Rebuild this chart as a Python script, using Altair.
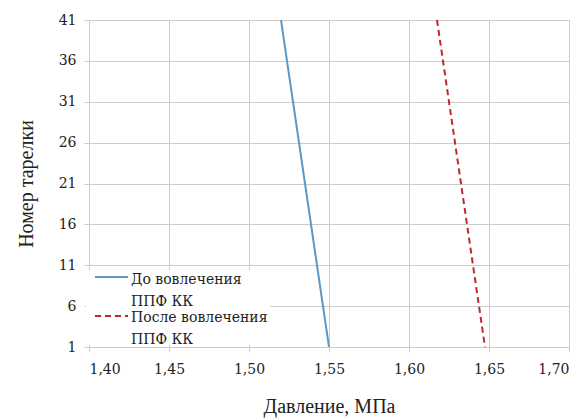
import altair as alt
import pandas as pd

# Pressure along the column, bottom and top trays
series_before = "До вовлечения ППФ КК"
series_after = "После вовлечения ППФ КК"
trays = [1, 41]
pressure_before = [1.55, 1.52]
pressure_after = [1.6475, 1.6175]

colors = ["#5b98c6", "#c0282e"]
dashes = [[1, 0], [6, 4]]

df = pd.DataFrame({
    "tray": trays + trays,
    "pressure": pressure_before + pressure_after,
    "series": [series_before] * 2 + [series_after] * 2,
})

title_font = "Liberation Serif"
label_font = "DejaVu Serif"
y_ticks = [1, 6, 11, 16, 21, 26, 31, 36, 41]
x_ticks = [1.40, 1.45, 1.50, 1.55, 1.60, 1.65, 1.70]

lines = alt.Chart(df).mark_line(strokeWidth=2).encode(
    x=alt.X("pressure:Q",
            scale=alt.Scale(domain=[1.40, 1.70], nice=False),
            axis=alt.Axis(values=x_ticks, title="Давление, МПа",
                          labelExpr="replace(format(datum.value, '.2f'), '.', ',')",
                          labelPadding=10, titlePadding=20)),
    y=alt.Y("tray:Q",
            scale=alt.Scale(domain=[1, 41], nice=False, zero=False),
            axis=alt.Axis(values=y_ticks, title="Номер тарелки",
                          labelPadding=8, titlePadding=22)),
    color=alt.Color("series:N",
                    scale=alt.Scale(domain=[series_before, series_after], range=colors),
                    legend=None),
    strokeDash=alt.StrokeDash("series:N",
                              scale=alt.Scale(domain=[series_before, series_after], range=dashes),
                              legend=None),
)

# Hand-placed legend in the lower-left corner of the plot, with two-line labels
one = alt.Data(values=[{"k": 0}])
legend_box = alt.Chart(one).mark_rect(color="white").encode(
    x=alt.value(-3), x2=alt.value(181), y=alt.value(250), y2=alt.value(325))


def symbol(y, color, dash):
    return alt.Chart(one).mark_rule(color=color, strokeWidth=2, strokeDash=dash).encode(
        x=alt.value(6), x2=alt.value(39), y=alt.value(y))


def label(text, y):
    return alt.Chart(alt.Data(values=[{"t": text}])).mark_text(
        align="left", baseline="alphabetic", font=label_font, fontSize=14, color="#222"
    ).encode(x=alt.value(42), y=alt.value(y), text="t:N")


legend = [
    legend_box,
    symbol(257, colors[0], dashes[0]),
    label("До вовлечения", 264),
    label("ППФ КК", 286),
    symbol(296, colors[1], dashes[1]),
    label("После вовлечения", 302),
    label("ППФ КК", 324),
]

chart = alt.layer(lines, *legend).properties(
    width=480, height=327,
    padding={"left": 89, "top": 20, "right": 16, "bottom": 71},
    autosize=alt.AutoSizeParams(type="none"),
    background="white",
).configure_view(stroke="#c8c8c8", strokeWidth=1).configure_axis(
    labelFont=label_font, titleFont=title_font, labelFontSize=14, titleFontSize=20,
    titleFontWeight="normal",
    labelColor="#222", titleColor="#222",
    gridColor="#cccccc", domainColor="#cccccc", tickColor="#cccccc",
    tickSize=5,
)

chart.save("out.html", embed_options={"renderer": "svg", "actions": False})
